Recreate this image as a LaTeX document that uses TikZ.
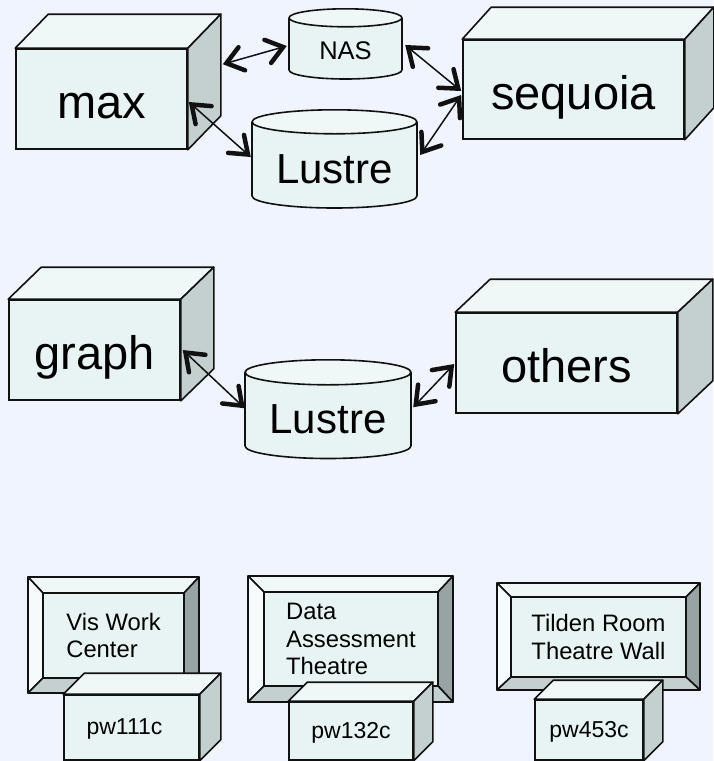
\documentclass[tikz,border=0pt]{standalone}
\usepackage{fontspec}
\setmainfont{Liberation Sans}
\usetikzlibrary{arrows.meta,calc}
\definecolor{bgc}{RGB}{240,244,254}
\definecolor{frontc}{RGB}{232,244,244}
\definecolor{topc}{RGB}{239,247,247}
\definecolor{sidec}{RGB}{196,208,208}
\definecolor{darkc}{RGB}{152,164,164}
\definecolor{lightc}{RGB}{245,251,251}
\definecolor{edgec}{RGB}{17,17,17}
\tikzset{
  face/.style={draw=edgec,line width=1.6pt,line join=round},
  front/.style={draw=edgec,line width=1.6pt,fill=frontc,inner sep=0pt},
  bigtxt/.style={font=\fontsize{47}{50}\selectfont,text height=42pt,text depth=3pt},
  smalltxt/.style={font=\fontsize{23}{27}\selectfont,text height=17pt,text depth=3pt},
  cylbody/.style={fill=frontc,inner sep=0pt},
  montxt/.style={front,font=\fontsize{23.8}{27.5}\selectfont},
  conn/.style={draw=edgec,line width=1.5pt,
    {Straight Barb[length=16pt,width=24pt,line width=4.5pt,line cap=round]}-{Straight Barb[length=16pt,width=24pt,line width=4.5pt,line cap=round]}}
}
% name x1 y1 x2 y2 dx dy style text
\newcommand\cubebox[9]{%
  \node[front,#8,minimum width={(#4-#2)*1pt},minimum height={(#5-#3)*1pt}] (#1) at ({(#2+#4)/2},{(#3+#5)/2}) {#9};
  \draw[face,fill=topc] (#1.north west) -- ++(#6,-#7) -- ($(#1.north east)+(#6,-#7)$) -- (#1.north east) -- cycle;
  \draw[face,fill=sidec] (#1.north east) -- ++(#6,-#7) -- ($(#1.south east)+(#6,-#7)$) -- (#1.south east) -- cycle;
}
% name x1 x2 ytop ybot ry style text
\newcommand\cylnode[8]{%
  \draw[face,fill=frontc] ({(#2+#3)/2},#5) ellipse [x radius={(#3-#2)/2*1pt}, y radius=#6pt];
  \node[cylbody,#7,minimum width={(#3-#2)*1pt},minimum height={(#5-#4)*1pt}] (#1) at ({(#2+#3)/2},{(#4+#5)/2}) {#8};
  \draw[face] (#1.north west) -- (#1.south west) (#1.north east) -- (#1.south east);
  \draw[face,fill=topc] (#1.north) ellipse [x radius={(#3-#2)/2*1pt}, y radius=#6pt];
}
% outer X1 Y1 X2 Y2, inner x1 y1 x2 y2
\newcommand\bevelframe[8]{%
  \draw[face,fill=topc] (#1,#2) -- (#3,#2) -- (#7,#6) -- (#5,#6) -- cycle;
  \draw[face,fill=lightc] (#1,#2) -- (#5,#6) -- (#5,#8) -- (#1,#4) -- cycle;
  \draw[face,fill=darkc] (#3,#2) -- (#3,#4) -- (#7,#8) -- (#7,#6) -- cycle;
  \draw[face,fill=sidec] (#1,#4) -- (#3,#4) -- (#7,#8) -- (#5,#8) -- cycle;
}
\begin{document}
\begin{tikzpicture}[x=1pt,y=-1pt]
\fill[bgc] (0,0) rectangle (713,761);
\useasboundingbox (0,0) rectangle (713,761);

% top group
\cubebox{max}{16}{49}{187}{149}{33}{34}{bigtxt}{max}
\cubebox{seq}{463}{40}{684}{139}{29}{32}{bigtxt}{sequoia}
\cylnode{nas}{289}{402}{18}{70}{9}{font=\fontsize{25.5}{28}\selectfont,text height=33pt,text depth=3pt}{NAS}
\cylnode{lustreA}{252}{417}{122}{196}{12}{font=\fontsize{42}{46}\selectfont,text height=51pt,text depth=3pt}{Lustre}

\draw[conn] ($(max.north east)+(35,16)$) -- ($(nas.west)+(-2,2)$);
\draw[conn] ($(max.east)+(1,3)$) -- ($(lustreA.west)+(-1,-2)$);
\draw[conn] ($(nas.east)+(3,1)$) -- ($(seq.west)+(-1,1.5)$);
\draw[conn] ($(lustreA.east)+(3,-4)$) -- ($(seq.west)+(-1,5.5)$);

% middle group
\cubebox{graph}{9}{300}{180}{400}{33}{32}{bigtxt}{graph}
\cubebox{others}{456}{313}{677}{413}{35}{33}{bigtxt}{others}
\cylnode{lustreB}{245}{411}{372.5}{446}{12.5}{font=\fontsize{42}{46}\selectfont,text height=50.5pt,text depth=3pt}{Lustre}

\draw[conn] ($(graph.east)+(2,0)$) -- ($(lustreB.west)+(0,-1)$);
\draw[conn] ($(lustreB.east)+(2,-2)$) -- ($(others.west)+(-1,1)$);

% bottom group
\bevelframe{28}{577}{199}{693}{43}{593}{184}{678}
\node[montxt,align=left,minimum width=141pt,minimum height=85pt] (vis) at (113.5,635.5) {Vis Work\\Center};
\cubebox{pwa}{64}{695}{199}{760}{21}{21}{smalltxt}{\hspace*{-14pt}pw111c}

\bevelframe{248}{576}{453}{702}{264}{592}{438}{686}
\node[montxt,align=left,minimum width=174pt,minimum height=94pt] (dat) at (351,639) {Data\\Assessment\\Theatre};
\cubebox{pwb}{289}{702}{413}{760}{19}{19}{smalltxt}{pw132c}

\bevelframe{497}{583}{700}{690}{511}{597}{686}{677}
\node[montxt,align=center,minimum width=175pt,minimum height=80pt] (tilden) at (598.5,637) {Tilden Room\\Theatre Wall};
\cubebox{pwc}{535}{700}{643}{760}{19}{19}{smalltxt}{pw453c}
\end{tikzpicture}
\end{document}
